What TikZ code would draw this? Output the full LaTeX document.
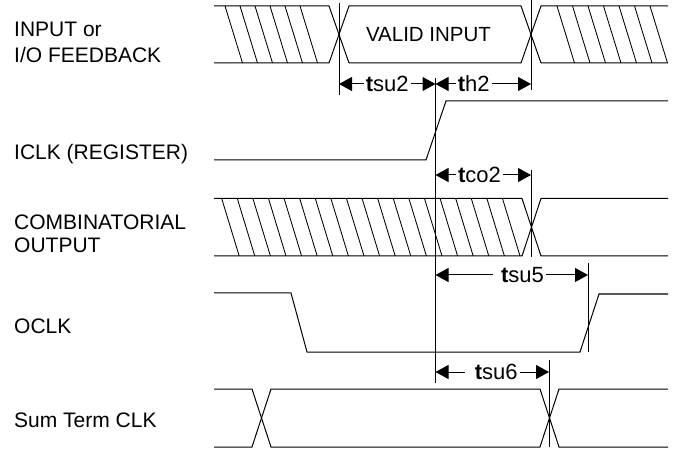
\documentclass[tikz,border=0pt]{standalone}
\usepackage{fontspec}
\setmainfont{Liberation Sans}
\usetikzlibrary{arrows.meta,positioning}

\begin{document}
\begin{tikzpicture}[x=1pt, y=-1pt, font=\fontsize{21}{24}\selectfont,
sig/.style={line width=1pt, line join=miter},
hatchline/.style={line width=0.85pt},
mark line/.style={line width=0.85pt},
dimline/.style={arrows={Triangle[length=13pt,width=14pt]-Triangle[length=13pt,width=14pt]}, line width=1pt},
tlabel/.style={fill=white, inner xsep=2pt, inner ysep=1pt, font=\fontsize{22}{24}\selectfont},
siglabel/.style={anchor=base west, inner sep=0pt}]
\useasboundingbox (0,0) rectangle (675,449);

% signal names
\node[siglabel] (inp) at (14,37) {INPUT or};
\node[siglabel] (iofb) at (14,63) {I/O FEEDBACK};
\node[siglabel] (iclk) at (14,160) {ICLK (REGISTER)};
\node[siglabel] (comb) at (14,230) {COMBINATORIAL};
\node[siglabel] (out) at (14,253) {OUTPUT};
\node[siglabel] (oclk) at (14,333) {OCLK};
\node[siglabel] (stclk) at (14,427) {Sum Term CLK};

% input / feedback
\draw[sig] (214,6) -- (329,6) -- (349,63) -- (521,63) -- (541,6) -- (668,6);
\draw[sig] (214,63) -- (329,63) -- (349,6) -- (521,6) -- (541,63) -- (668,63);
\foreach \x in {225,240,...,300} \draw[hatchline] (\x,6) -- ++(17.5,57);
\foreach \x in {557,572.5,...,651} \draw[hatchline] (\x,6) -- ++(17.5,57);
\node[font=\fontsize{20.5}{24}\selectfont] (valid) at (428.5,34.5) {VALID INPUT};

% register clock
\draw[sig] (214,160) -- (426,160) -- (446,101) -- (668,101);

% combinatorial output
\draw[sig] (214,198.5) -- (522,198.5) -- (541,256) -- (668,256);
\draw[sig] (214,256) -- (522,256) -- (541,198.5) -- (668,198.5);
\foreach \x in {221.7,237.3,...,504} \draw[hatchline] (\x,198.5) -- ++(17.5,57.5);

% output clock
\draw[sig] (214,293) -- (291,293) -- (307,352) -- (580,352) -- (599,294) -- (668,294);

% sum term clock
\draw[sig] (214,389) -- (252,389) -- (271,447) -- (540,447) -- (559,389) -- (668,389);
\draw[sig] (214,447) -- (252,447) -- (271,389) -- (540,389) -- (559,447) -- (668,447);

% timing marks
\coordinate (in edge top) at (339,3);
\coordinate (in edge) at (339,84);
\coordinate (in edge bot) at (339,95);
\coordinate (clk edge top) at (435.5,78);
\coordinate (clk edge bot) at (435.5,383);
\coordinate (hold end top) at (531,0);
\coordinate (hold end) at (531,84);
\coordinate (hold end bot) at (531,90);
\coordinate (co end top) at (531,170);
\coordinate (co end) at (531,175);
\coordinate (co end bot) at (531,257);
\coordinate (oclk edge top) at (588,263);
\coordinate (oclk edge) at (588,275);
\coordinate (oclk edge bot) at (588,352);
\coordinate (st edge top) at (549,360);
\coordinate (st edge) at (549,372);
\coordinate (st edge bot) at (549,447);

\draw[mark line] (in edge top) -- (in edge bot);
\draw[mark line] (hold end top) -- (hold end bot);
\draw[mark line] (clk edge top) -- (clk edge bot);
\draw[mark line] (co end top) -- (co end bot);
\draw[mark line] (oclk edge top) -- (oclk edge bot);
\draw[mark line] (st edge top) -- (st edge bot);

\draw[dimline] (in edge) -- (clk edge top |- in edge) node[tlabel, midway] (tsu2) {\textbf{t}su2};
\draw[dimline] (clk edge top |- hold end) -- (hold end) node[tlabel, pos=0.4] (th2) {\textbf{t}h2};
\draw[dimline] (clk edge top |- co end) -- (co end) node[tlabel, pos=0.46] (tco2) {\textbf{t}co2};
\draw[dimline] (clk edge top |- oclk edge) -- (oclk edge) node[tlabel, pos=0.55] (tsu5) {\ \textbf{t}su5};
\draw[dimline] (clk edge top |- st edge) -- (st edge) node[tlabel, pos=0.5] (tsu6) {\hspace{8pt}\textbf{t}su6};
\end{tikzpicture}
\end{document}
